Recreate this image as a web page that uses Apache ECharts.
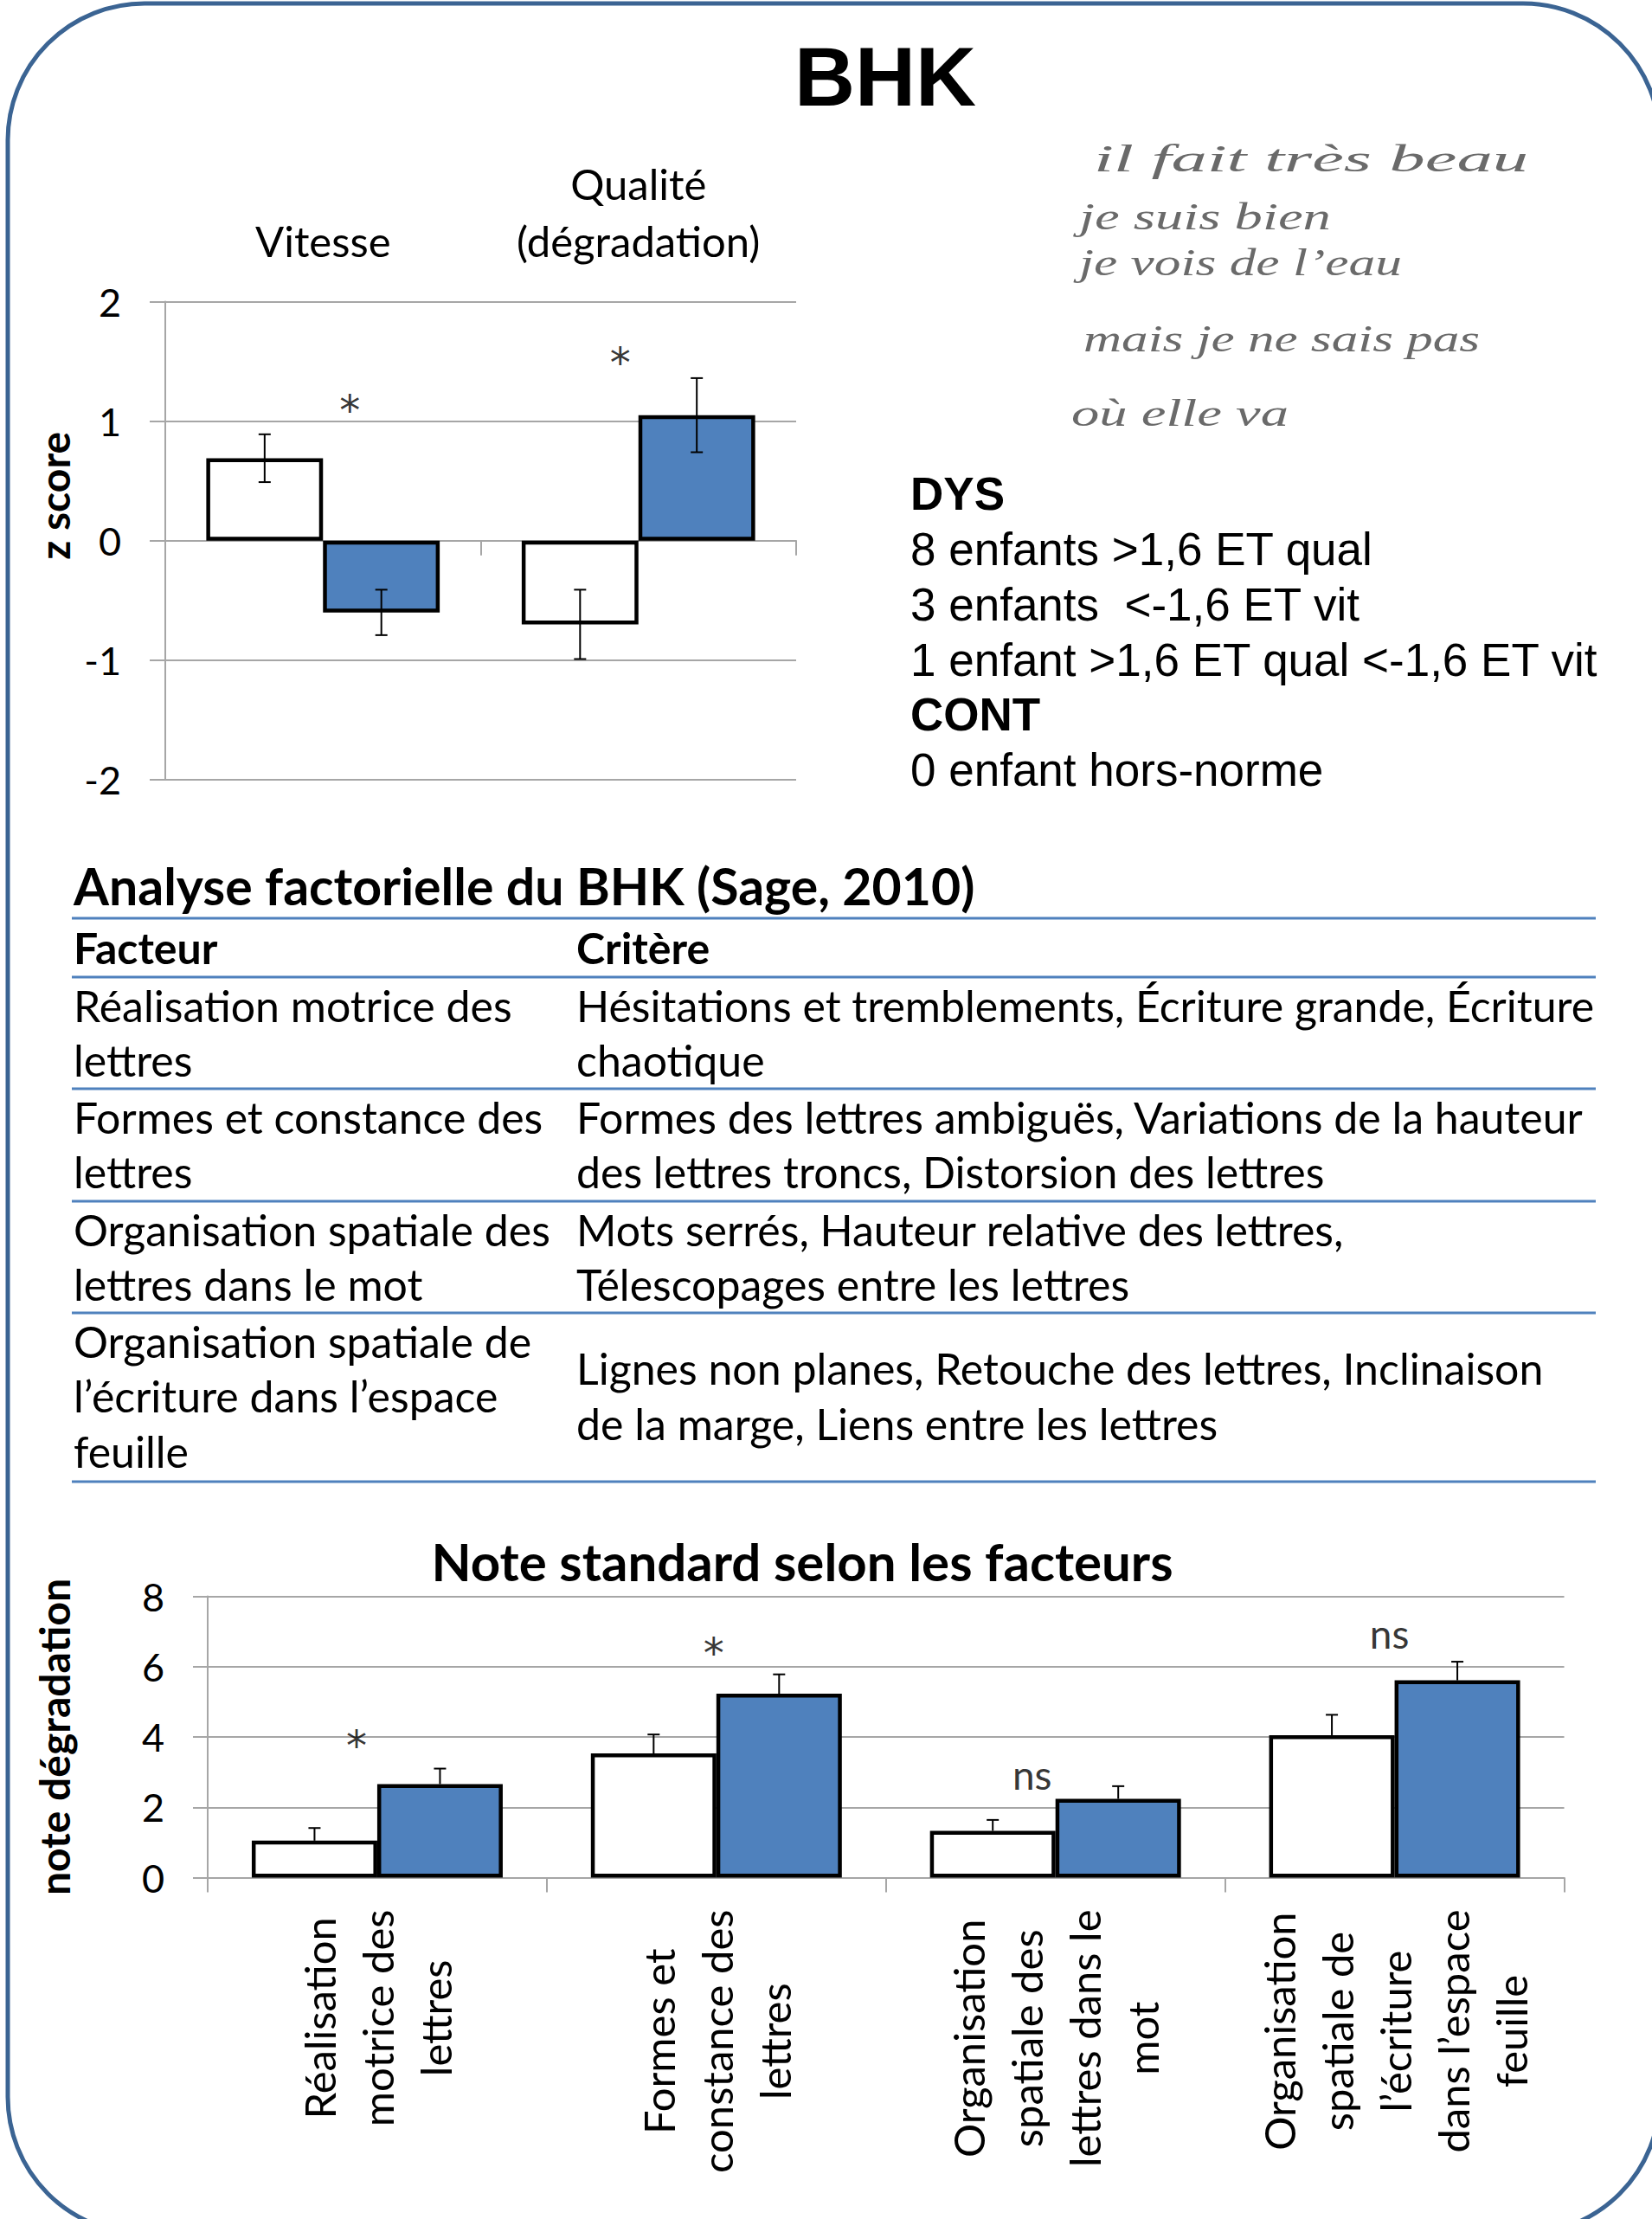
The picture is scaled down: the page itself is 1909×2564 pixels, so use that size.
<!DOCTYPE html>
<html><head><meta charset="utf-8">
<script src="https://cdn.jsdelivr.net/npm/echarts@6/dist/echarts.min.js"></script>
<style>html,body{margin:0;padding:0;background:#fff}#c{width:1909px;height:2564px}</style>
</head><body><div id="c"></div>
<script>
// ---------- DATA ----------
const topCategories = ['Vitesse', 'Qualité\n(dégradation)'];
const topCont = [0.69, -0.70];
const topContErr = [0.20, 0.29];
const topDys = [-0.60, 1.05];
const topDysErr = [0.19, 0.31];
const topAnnotText = ['*', '*'];
const topAnnotY = [1.14, 1.54];

const botCategories = [
  ['Réalisation', 'motrice des', 'lettres'],
  ['Formes et', 'constance des', 'lettres'],
  ['Organisation', 'spatiale des', 'lettres dans le', 'mot'],
  ['Organisation', 'spatiale de', 'l’écriture', 'dans l’espace', 'feuille']
];
const botCont = [1.05, 3.53, 1.33, 4.05];
const botContErr = [0.36, 0.54, 0.31, 0.58];
const botDys = [2.66, 5.23, 2.24, 5.61];
const botDysErr = [0.44, 0.55, 0.36, 0.53];
const botAnnotText = ['*', '*', 'ns', 'ns'];
const botAnnotY = [3.93, 6.56, 2.98, 6.98];

const handwriting = ['il fait très beau', 'je suis bien', 'je vois de l’eau', 'mais je ne sais pas', 'où elle va'];
const statsGroups = [
  { title: 'DYS', lines: ['8 enfants >1,6 ET qual', '3 enfants  <-1,6 ET vit', '1 enfant >1,6 ET qual <-1,6 ET vit'] },
  { title: 'CONT', lines: ['0 enfant hors-norme'] }
];
const tableTitle = 'Analyse factorielle du BHK (Sage, 2010)';
const tableHeader = ['Facteur', 'Critère'];
const tableFactors = [
  ['Réalisation motrice des', 'lettres'],
  ['Formes et constance des', 'lettres'],
  ['Organisation spatiale des', 'lettres dans le mot'],
  ['Organisation spatiale de', 'l’écriture dans l’espace', 'feuille']
];
const tableCriteria = [
  ['Hésitations et tremblements, Écriture grande, Écriture', 'chaotique'],
  ['Formes des lettres ambiguës, Variations de la hauteur', 'des lettres troncs, Distorsion des lettres'],
  ['Mots serrés, Hauteur relative des lettres,', 'Télescopages entre les lettres'],
  ['Lignes non planes, Retouche des lettres, Inclinaison', 'de la marge, Liens entre les lettres']
];

// ---------- STYLE / LAYOUT ----------
const CAL = 'Lato';
const ARI = 'Liberation Sans';
const BLUE = '#4f81bd';
const GRID = '#a6a6a6';
const GAP = 0.26;
const topAnnotDx = [31, -21];
const botAnnotDx = [-24, -3, -27, -6];
const tableLines = [1061, 1129, 1258, 1388, 1517, 1712];
const LS = 63.5;
const TFS = 50;
const hwX = [1264, 1247, 1247, 1252, 1238];
const hwB = [198, 265, 318, 406, 492];
const hwW = [502, 291, 373, 458, 251];

function mid(baseline, fs, k) { return baseline - (k || 0.35) * fs; }
const mctx = document.createElement('canvas').getContext('2d');
function measure(t, font) { mctx.font = font; return mctx.measureText(t).width; }

function errSeries(xi, yi, vals, errs, side, both) {
  return {
    type: 'custom', xAxisIndex: xi, yAxisIndex: yi, z: 5, silent: true,
    data: vals.map((v, i) => [i, v, errs[i]]),
    renderItem(params, api) {
      const i = api.value(0), v = api.value(1), e = api.value(2);
      const band = api.size([1, 0])[0];
      const bw = band * (1 - GAP) / 2;
      const cx = api.coord([i, v])[0] + side * bw / 2;
      const yt = api.coord([i, v + e])[1];
      const yb = both ? api.coord([i, v - e])[1] : api.coord([i, v])[1];
      const st = { stroke: '#000', lineWidth: 2 };
      const ch = [
        { type: 'line', shape: { x1: cx, y1: yt, x2: cx, y2: yb }, style: st },
        { type: 'line', shape: { x1: cx - 7, y1: yt, x2: cx + 7, y2: yt }, style: st }
      ];
      if (both) ch.push({ type: 'line', shape: { x1: cx - 7, y1: yb, x2: cx + 7, y2: yb }, style: st });
      return { type: 'group', children: ch };
    }
  };
}
function barSeries(xi, yi, vals, color) {
  return {
    type: 'bar', xAxisIndex: xi, yAxisIndex: yi, data: vals, barGap: '0%', barCategoryGap: (GAP * 100) + '%',
    itemStyle: { color: color, borderColor: '#000', borderWidth: 4.5 }, silent: true
  };
}
function annotSeries(xi, yi, ys, texts, dxs) {
  return {
    type: 'scatter', xAxisIndex: xi, yAxisIndex: yi, symbolSize: 1, silent: true, z: 6,
    itemStyle: { color: 'rgba(0,0,0,0)' },
    data: ys.map((y, i) => {
      const star = texts[i] === '*';
      return {
        value: [i, y],
        label: { show: true, position: 'inside', formatter: texts[i], color: '#000',
          fontFamily: star ? 'DejaVu Sans' : CAL, fontSize: star ? 48 : 46,
          offset: [dxs[i], star ? 7 : 2] }
      };
    })
  };
}

const graphics = [];
graphics.push({ type: 'rect', shape: { x: 9, y: 4, width: 1909, height: 2577, r: 158 }, style: { fill: 'none', stroke: '#3b6493', lineWidth: 5 }, z: 0 });
graphics.push({ type: 'text', style: { text: 'BHK', x: 1023, y: mid(122, 97, 0.3465), fontFamily: ARI, fontWeight: 'bold', fontSize: 97, fill: '#000', align: 'center', verticalAlign: 'middle' } });
handwriting.forEach((t, i) => {
  const fs = 44;
  const w = measure(t, 'italic ' + fs + 'px "Liberation Serif"');
  graphics.push({ type: 'text', x: hwX[i], y: mid(hwB[i], fs, 0.33), scaleX: hwW[i] / w,
    style: { text: t, x: 0, y: 0, fontFamily: 'Liberation Serif', fontStyle: 'italic', fontSize: fs, fill: '#6a6a6a', align: 'left', verticalAlign: 'middle' } });
});
let sb = 589.3;
statsGroups.forEach(g => {
  graphics.push({ type: 'text', style: { text: g.title, x: 1052, y: mid(sb, 53, 0.3465), fontFamily: ARI, fontWeight: 'bold', fontSize: 53, fill: '#000', verticalAlign: 'middle' } });
  sb += 63.7;
  g.lines.forEach(l => {
    graphics.push({ type: 'text', style: { text: l, x: 1052, y: mid(sb, 53, 0.3465), fontFamily: ARI, fontSize: 53, fill: '#000', verticalAlign: 'middle' } });
    sb += 63.7;
  });
});
// table
graphics.push({ type: 'text', style: { text: tableTitle, x: 85, y: mid(1044, 59), fontFamily: CAL, fontWeight: 'bold', fontSize: 59, fill: '#000', verticalAlign: 'middle' } });
tableLines.forEach(y => graphics.push({ type: 'line', shape: { x1: 83, y1: y, x2: 1844, y2: y }, style: { stroke: BLUE, lineWidth: 3 } }));
graphics.push({ type: 'text', style: { text: tableHeader[0], x: 85, y: mid(1112, TFS), fontFamily: CAL, fontWeight: 'bold', fontSize: TFS, fill: '#000', verticalAlign: 'middle' } });
graphics.push({ type: 'text', style: { text: tableHeader[1], x: 666, y: mid(1112, TFS), fontFamily: CAL, fontWeight: 'bold', fontSize: TFS, fill: '#000', verticalAlign: 'middle' } });
tableFactors.forEach((f, r) => {
  const c = tableCriteria[r];
  const n = Math.max(f.length, c.length);
  const b0 = tableLines[r + 1] + 50;
  [[f, 85], [c, 666]].forEach(([lines, x]) => {
    const off = (n - lines.length) * LS / 2;
    lines.forEach((t, k) => graphics.push({ type: 'text', style: { text: t, x: x, y: mid(b0 + off + k * LS, TFS), fontFamily: CAL, fontSize: TFS, fill: '#000', verticalAlign: 'middle' } }));
  });
});
graphics.push({ type: 'text', style: { text: 'Note standard selon les facteurs', x: 927, y: mid(1825, 60), fontFamily: CAL, fontWeight: 'bold', fontSize: 60, fill: '#000', align: 'center', verticalAlign: 'middle' } });

const axLine = { lineStyle: { color: GRID, width: 2 } };
const option = {
  animation: false,
  backgroundColor: '#fff',
  grid: [
    { left: 191, top: 348.5, width: 729, height: 552.5 },
    { left: 240, top: 1844.5, width: 1567.5, height: 325 }
  ],
  xAxis: [
    { gridIndex: 0, type: 'category', data: topCategories, axisLine: { onZero: true, ...axLine }, axisTick: { show: true, length: 17, ...axLine }, axisLabel: { show: false }, splitLine: { show: false } },
    { gridIndex: 0, type: 'category', data: topCategories, position: 'top', axisLine: { show: false }, axisTick: { show: false }, splitLine: { show: false },
      axisLabel: { interval: 0, fontFamily: CAL, fontSize: 49, color: '#000', lineHeight: 66, margin: 38 } },
    { gridIndex: 1, type: 'category', data: botCategories.map(l => l.join('\n')), axisLine: axLine, axisTick: { show: true, length: 17, ...axLine }, splitLine: { show: false },
      axisLabel: { rotate: 90, margin: 37, interval: 0, color: '#000',
        formatter: v => v.split('\n').map(s => '{c|' + s + '}').join('\n'),
        rich: { c: { align: 'center', fontFamily: CAL, fontSize: 49, lineHeight: 67, color: '#000' } } } }
  ],
  yAxis: [
    { gridIndex: 0, type: 'value', min: -2, max: 2, interval: 1, axisLine: { show: true, ...axLine }, axisTick: { show: true, length: 18, ...axLine },
      splitLine: { lineStyle: { color: GRID, width: 2 } }, axisLabel: { fontFamily: CAL, fontSize: 45, color: '#000', margin: 51 },
      name: 'z score', nameLocation: 'middle', nameGap: 105, nameTextStyle: { fontFamily: CAL, fontWeight: 'bold', fontSize: 48, color: '#000', padding: [0, 0, 0, 104] } },
    { gridIndex: 1, type: 'value', min: 0, max: 8, interval: 2, axisLine: { show: true, ...axLine }, axisTick: { show: true, length: 17, ...axLine },
      splitLine: { lineStyle: { color: GRID, width: 2 } }, axisLabel: { fontFamily: CAL, fontSize: 45, color: '#000', margin: 50 },
      name: 'note dégradation', nameLocation: 'middle', nameGap: 154, nameTextStyle: { fontFamily: CAL, fontWeight: 'bold', fontSize: 48, color: '#000' } }
  ],
  series: [
    barSeries(0, 0, topCont, '#fff'),
    barSeries(0, 0, topDys, BLUE),
    errSeries(0, 0, topCont, topContErr, -1, true),
    errSeries(0, 0, topDys, topDysErr, 1, true),
    annotSeries(0, 0, topAnnotY, topAnnotText, topAnnotDx),
    barSeries(2, 1, botCont, '#fff'),
    barSeries(2, 1, botDys, BLUE),
    errSeries(2, 1, botCont, botContErr, -1, false),
    errSeries(2, 1, botDys, botDysErr, 1, false),
    annotSeries(2, 1, botAnnotY, botAnnotText, botAnnotDx)
  ],
  graphic: graphics
};
const chart = echarts.init(document.getElementById('c'), null, { renderer: 'svg' });
chart.setOption(option);
</script>
</body></html>
